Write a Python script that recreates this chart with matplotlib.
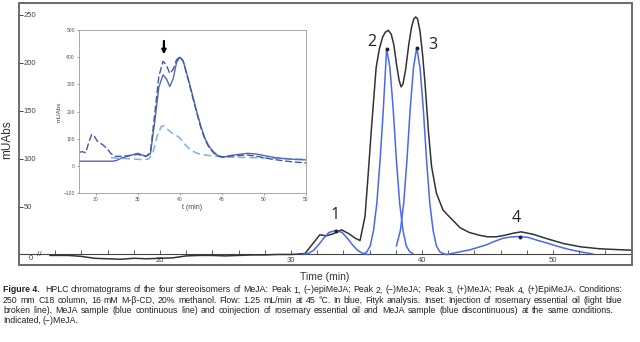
import matplotlib
matplotlib.use("Agg")
import matplotlib.pyplot as plt
from matplotlib.patches import Rectangle

# ---------------- Datos del cromatograma principal ----------------
# Curva experimental (negra): tiempo (min) y señal (mUAbs)
t_negro = [11.6, 12, 13, 14, 15, 16, 17, 18, 19, 20, 21, 22, 23, 24, 25, 26, 27, 28,
           29, 30, 30.5, 31.07, 31.7, 32.2, 32.7, 33.2, 33.86, 34.4, 34.9, 35.27,
           35.65, 35.9, 36.15, 36.5, 36.75, 37.0, 37.2, 37.43, 37.65, 37.85, 38.05,
           38.25, 38.4, 38.55, 38.75, 39.0, 39.2, 39.38, 39.52, 39.66, 39.85, 40.05,
           40.23, 40.5, 40.73, 41.1, 41.6, 41.9, 42.9, 43.6, 44.4, 45.0, 45.65,
           46.3, 46.9, 47.56, 48.5, 49.5, 50.8, 52.1, 53.5, 55, 56]
y_negro = [-1, -1, -1, -2, -4, -4.5, -5, -4, -4.5, -4, -3.5, -1.5, -1, -1, -1.5, -1,
           -0.5, -0.5, 0, 0, 0.3, 1, 11.8, 20.5, 19.5, 21.5, 25.7, 21.8, 17, 14.5,
           39.6, 85, 133, 195, 215, 227, 232, 234, 230, 219, 199,
           182, 175, 178, 193, 220, 237, 246, 248, 246, 233, 208,
           179, 127, 92, 64, 46.5, 42, 28, 23, 20, 18.5, 18.4,
           20, 22, 23.6, 21, 16.6, 11.4, 8, 6, 5, 4.5]

# Picos ajustados con Fityk (azul)
t_pico1 = [30.9, 31.3, 31.7, 32.1, 32.5, 32.9, 33.4, 33.9, 34.3, 34.7, 35.1, 35.5, 35.9]
y_pico1 = [0, 1, 4, 10, 17, 23, 25, 23, 17, 10, 4, 1, 0]

t_pico2 = [35.6, 35.8, 36.05, 36.3, 36.55, 36.8, 37.05, 37.3, 37.55, 37.8,
           38.05, 38.3, 38.55, 38.8, 39.05, 39.3]
y_pico2 = [1, 3, 9, 25, 53, 98, 152, 215, 195, 152, 98, 53, 25, 9, 3, 1]

t_pico3 = [38.05, 38.35, 38.6, 38.85, 39.1, 39.35, 39.6, 39.85, 40.1, 40.35,
           40.6, 40.85, 41.1, 41.35, 41.6, 41.9]
y_pico3 = [9, 25, 53, 98, 152, 195, 216, 195, 152, 98, 53, 25, 9, 3, 1, 0]

t_pico4 = [41.9, 42.8, 43.7, 44.3, 44.9, 45.5, 46.2, 46.8, 47.5, 48.1, 48.75,
           49.4, 50.0, 50.6, 51.3, 52.2, 53.05]
y_pico4 = [0, 2.5, 5, 7.5, 10, 13.5, 17, 18.3, 18.7, 17.8, 15, 12.5, 10, 7.5, 5, 2.5, 0.5]

# Máximos de los picos ajustados y etiquetas
t_max = [33.4, 37.3, 39.6, 47.5]
y_max = [25, 215, 216, 18.7]
etiquetas = ["1", "2", "3", "4"]
t_etiq = [33.4, 36.2, 40.8, 47.2]
y_etiq = [41, 222, 219, 38]

# ---------------- Datos del inserto ----------------
t_coiny = [28, 28.4, 28.8, 29.2, 29.5, 29.8, 30.2, 30.8, 31.3, 31.8, 32.3, 33, 34,
           35, 35.5, 36, 36.5, 37, 37.5, 38, 38.4, 38.8, 39.2, 39.6, 40, 40.4, 41,
           41.5, 42, 42.5, 43, 43.5, 44, 44.5, 45, 45.5, 46, 47, 48, 49, 50, 51,
           52, 53, 54, 55]
y_coiny = [50, 52, 48, 90, 115, 110, 90, 78, 65, 45, 35, 35, 38, 42, 38, 35, 50,
           190, 330, 385, 370, 340, 355, 390, 402, 385, 315, 255, 195, 140, 95, 66,
           48, 36, 32, 33, 36, 38, 40, 36, 30, 24, 20, 16, 13, 11]

t_mejA = [28, 29, 30, 31, 32, 32.5, 33, 33.5, 34, 34.5, 35, 35.5, 36, 36.5, 37,
          37.5, 38, 38.4, 38.8, 39.2, 39.6, 40, 40.4, 41, 41.5, 42, 42.5, 43, 43.5,
          44, 44.5, 45, 45.5, 46, 47, 48, 49, 50, 51, 52, 53, 54, 55]
y_mejA = [17, 17, 17, 17, 17, 20, 28, 33, 37, 42, 46, 40, 35, 45, 160, 290, 335,
          320, 292, 320, 380, 400, 385, 320, 260, 200, 145, 100, 70, 52, 38, 33,
          34, 38, 42, 46, 44, 38, 32, 28, 25, 23, 22]

t_romero = [31.8, 32.5, 33.5, 34.5, 35.5, 36.3, 36.8, 37.3, 37.8, 38.1, 38.5, 39.0,
            39.5, 39.9, 40.3, 40.8, 41.3, 41.85, 42.5, 43.5, 44.5, 46, 47.7, 50,
            52, 55]
y_romero = [30, 28, 27, 25, 23, 25, 50, 110, 145, 147, 135, 122, 114, 105, 90, 72,
            58, 49, 42, 38, 35, 32, 31, 29, 27, 24]

texto_figura = [
    "HPLC chromatograms of the four stereoisomers of MeJA: Peak 1, (\u2212)epiMeJA; "
    "Peak 2, (\u2212)MeJA; Peak 3, (+)MeJA; Peak 4, (+)EpiMeJA. Conditions:",
    "250 mm C18 column, 16 mM M-\u03b2-CD, 20% methanol. Flow: 1.25 mL/min at 45 \u00b0C. "
    "In blue, Fityk analysis. Inset: Injection of rosemary essential oil (light blue",
    "broken line), MeJA sample (blue continuous line) and coinjection of rosemary "
    "essential oil and MeJA sample (blue discontinuous) at the same conditions.",
    "Indicated, (\u2212)MeJA.",
]


def linea_justificada(fig, render, x0, x1, y, texto, **kw):
    """Coloca las palabras de una línea repartiendo el espacio entre x0 y x1 (px)."""
    palabras = texto.split(' ')
    objs = [fig.text(0, y, p, **kw) for p in palabras]
    anchos = [o.get_window_extent(render).width for o in objs]
    hueco_normal = 1.7
    if x1 is None or len(palabras) < 2:
        hueco = hueco_normal
    else:
        hueco = (x1 - x0 - sum(anchos)) / (len(palabras) - 1)
        # no comprimir demasiado si la línea no cabe
        hueco = max(hueco, 1.0)
    x = x0
    for o, w in zip(objs, anchos):
        o.set_x(x / 640)
        x += w + hueco


def grafico_cromatograma():
    """
    Dibuja el cromatograma principal con los picos ajustados, el inserto
    y el texto de la figura. Guarda el resultado en out.png.
    """
    plt.rcParams['font.family'] = ['Liberation Sans', 'DejaVu Sans']

    fig = plt.figure(figsize=(6.4, 3.42), dpi=100)

    # Ejes principales
    ax = fig.add_axes([19 / 640, 1 - 265 / 342, 613 / 640, 262 / 342])
    ax.set_xlim(9.24, 56.03)
    ax.set_ylim(-11, 262.5)

    # Curva negra y picos azules
    ax.plot(t_negro, y_negro, color='#333333', lw=1.1, zorder=3)
    for tt, yy in [(t_pico1, y_pico1), (t_pico2, y_pico2),
                   (t_pico3, y_pico3), (t_pico4, y_pico4)]:
        ax.plot(tt, yy, color='#4a68ee', lw=1.1, zorder=4)
    ax.plot(t_max, y_max, 'o', color='#222222', ms=1.8, zorder=5)

    # Etiquetas de los picos
    for tx, ty, lab in zip(t_etiq, y_etiq, etiquetas):
        ax.text(tx, ty, lab, fontsize=11.5, ha='center', va='center',
                color='#222222', family=['Open Sans', 'DejaVu Sans'])

    # Marco y eje x sobre el cero
    for lado in ['left', 'right', 'top']:
        ax.spines[lado].set_visible(False)
    ax.spines['bottom'].set_position(('data', 0))
    ax.spines['bottom'].set_color('#444444')
    ax.spines['bottom'].set_linewidth(0.8)
    ax.add_patch(Rectangle((0, 0), 1, 1, transform=ax.transAxes, fill=False,
                           edgecolor='#6a6a6a', lw=1.4, clip_on=False, zorder=6))

    ax.set_xticks([20, 30, 40, 50])
    ax.set_xticks(list(range(12, 56, 2)), minor=True)
    ax.tick_params(axis='x', which='both', direction='in', length=3,
                   width=0.6, colors='#444444', labelsize=5.5, pad=2)
    ax.set_yticks([50, 100, 150, 200, 250])
    ax.tick_params(axis='y', direction='in', length=3, width=0.7,
                   colors='#444444', labelsize=5.5, pad=-3.5)
    for lab in ax.get_yticklabels():
        lab.set_horizontalalignment('left')

    # Simbolo de corte del eje
    ax.text(10.15, -4.5, "0", fontsize=5.5, color='#444444', ha='center', va='center')
    ax.text(10.8, -0.5, "//", fontsize=6, color='#444444', ha='center', va='center')

    ax.set_ylabel("mUAbs", fontsize=8.5, color='#333333')
    ax.yaxis.set_label_coords(-0.009, 0.48)
    fig.text(325 / 640, 1 - 277 / 342, "Time (min)", fontsize=7.5,
             color='#333333', ha='center', va='center')

    # Inserto
    ax_in = fig.add_axes([79 / 640, 1 - 193 / 342, 227 / 640, 163 / 342])
    ax_in.set_xlim(28, 55)
    ax_in.set_ylim(-100, 500)
    ax_in.plot(t_romero, y_romero, color='#74b4f0', lw=1.1, ls=(0, (5, 2.5)))
    ax_in.plot(t_mejA, y_mejA, color='#5666b4', lw=1.0)
    ax_in.plot(t_coiny, y_coiny, color='#4656a4', lw=1.0, ls=(0, (5, 2)))
    ax_in.annotate('', xy=(38.1, 400), xytext=(38.1, 470),
                   arrowprops=dict(arrowstyle='->', color='black', lw=1.6,
                                   mutation_scale=6))
    ax_in.set_xticks([30, 35, 40, 45, 50, 55])
    ax_in.set_yticks([-100, 0, 100, 200, 300, 400, 500])
    ax_in.tick_params(length=1.5, width=0.4, labelsize=3.6, pad=1.5,
                      colors='#555555')
    for lado in ax_in.spines.values():
        lado.set_color('#9a9a9a')
        lado.set_linewidth(0.6)
    ax_in.set_xlabel("t (min)", fontsize=5, color='#444444', labelpad=1)
    ax_in.set_ylabel("mUAbs", fontsize=4.5, color='#444444', labelpad=1)

    # Texto de la figura (justificado como en la revista)
    render = fig.canvas.get_renderer()
    ys = [290, 300.3, 310.6, 320.8]
    finales = [622, 622, 614, None]
    estilo = dict(fontsize=6.3, color='#222222', va='center')
    titulo = fig.text(3 / 640, 1 - ys[0] / 342, "Figure 4.", fontweight='bold',
                      **estilo)
    ancho = titulo.get_window_extent(render).width
    for i, linea in enumerate(texto_figura):
        x0 = 3 + (ancho + 5 if i == 0 else 0)
        linea_justificada(fig, render, x0, finales[i], 1 - ys[i] / 342, linea,
                          **estilo)

    fig.savefig("out.png", dpi=100)


grafico_cromatograma()
